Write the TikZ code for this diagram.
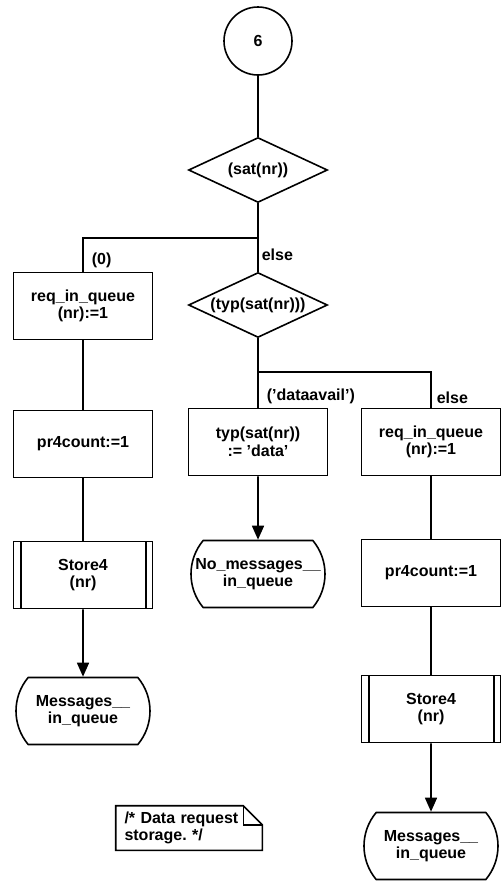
\documentclass[tikz,border=0pt]{standalone}
\usepackage{fontspec}
\setmainfont{Liberation Sans}
\usepackage{tikz}
\usetikzlibrary{shapes.geometric,shapes.misc,arrows.meta,positioning,calc}

\begin{document}
\begin{tikzpicture}[x=1pt, y=-1pt, >={Triangle[length=14pt,width=12pt]},
  every node/.style={font=\bfseries\fontsize{16}{17.5}\selectfont},
  every path/.style={line width=1.6pt},
  box/.style={draw, rectangle, minimum width=139pt, minimum height=67pt, align=center, inner sep=2pt},
  procbox/.style={box, path picture={
      \draw[line width=2pt] ([xshift=7pt]path picture bounding box.north west) -- ([xshift=7pt]path picture bounding box.south west)
            ([xshift=-7pt]path picture bounding box.north east) -- ([xshift=-7pt]path picture bounding box.south east);}},
  termbox/.style={draw, rounded rectangle, rounded rectangle arc length=80, minimum width=138pt, minimum height=67pt, align=center, inner sep=2pt},
  decbox/.style={draw, diamond, aspect=2.14, minimum width=139pt, minimum height=65pt, inner sep=0pt},
  startnode/.style={draw, circle, minimum size=68pt, inner sep=0pt},
  lbl/.style={inner sep=3pt},
  notebox/.style={align=left, text width=129pt, inner xsep=8pt, inner ysep=3pt, minimum height=43pt}]
\useasboundingbox (0,0) rectangle (502,881);

\node[startnode] (start) at (258,41) {6};
\node[decbox] (dec1) at (258,170) {(sat(nr))};
\node[decbox] (dec2) at (258,305) {(typ(sat(nr)))};
\coordinate (j1) at (258,238);
\coordinate (j2) at (258,372);

\node[box] (req1) at (83,306) {req\_in\_queue\\(nr):=1};
\node[box] (pr1) at (83,444) {pr4count:=1};
\node[procbox] (st1) at (83,575) {Store4\\(nr)};
\node[termbox] (term1) at (83,711) {Messages\_\_\\in\_queue};

\node[box] (typ) at (258,442) {typ(sat(nr))\\:= 'data'};
\node[termbox] (termM) at (258,574) {No\_messages\_\_\\in\_queue};

\node[box] (reqR) at (431,442) {req\_in\_queue\\(nr):=1};
\node[box] (prR) at (431,573) {pr4count:=1};
\node[procbox] (stR) at (431,709) {Store4\\(nr)};
\node[termbox] (termR) at (431,846) {Messages\_\_\\in\_queue};

\node[notebox] (note) at (189,828) {/* Data request\\storage.\ */};
\draw (note.north west) -- ([xshift=-19pt]note.north east) coordinate (fold)
  -- ([yshift=-19pt]note.north east) coordinate (foldend) -- (note.south east) -- (note.south west) -- cycle;
\draw (fold) |- (foldend);

\draw (start) -- (dec1);
\draw (dec1) -- (j1) -- (dec2);
\draw (j1) -| (req1);
\draw (dec2) -- (j2) -- (typ);
\draw (j2) -| (reqR);
\draw (req1) -- (pr1) -- (st1);
\draw[->] (st1) -- (term1);
\draw[->] (typ) -- (termM);
\draw (reqR) -- (prR) -- (stR);
\draw[->] (stR) -- (termR);

\node[lbl, anchor=south west] at ([xshift=5pt]req1.north) {(0)};
\node[lbl, anchor=west] at ($(j1)!.5!(dec2.north)$) {else};
\node[lbl, anchor=south west] at ([xshift=5pt]typ.north) {('dataavail')};
\node[lbl, anchor=south west] at ([xshift=2pt]reqR.north) {else};
\end{tikzpicture}
\end{document}
